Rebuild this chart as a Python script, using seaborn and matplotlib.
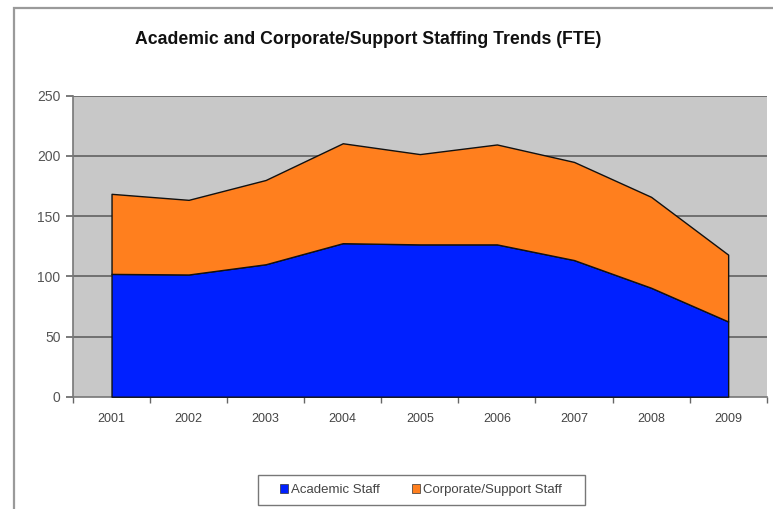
import matplotlib
matplotlib.use("Agg")
import matplotlib.pyplot as plt
from matplotlib.patches import Rectangle, Patch
import seaborn as sns
import numpy as np

years = ["2001", "2002", "2003", "2004", "2005", "2006", "2007", "2008", "2009"]
academic = [102, 101.5, 110, 127.5, 126.5, 126.5, 113.5, 90.5, 62.5]
corporate = [66.5, 62, 70, 83, 75, 83, 81.5, 75.5, 55.5]
series_names = ["Academic Staff", "Corporate/Support Staff"]
y_ticks = [0, 50, 100, 150, 200, 250]

blue = "#0020FF"
orange = "#FF7F1E"

sns.set_theme(style="white")
plt.rcParams["font.family"] = ["Liberation Sans", "DejaVu Sans"]

W, H = 773, 509
fig = plt.figure(figsize=(W / 100, H / 100), dpi=100)
fig.patch.set_facecolor("white")

# outer chart frame (runs off the right and bottom edges)
fig.patches.append(Rectangle((14 / W, -0.05), 1.2, 1 - 8 / H + 0.05,
                             transform=fig.transFigure, fill=False,
                             edgecolor="#9a9a9a", linewidth=1.6, zorder=0))

ax = fig.add_axes([73 / W, 1 - 396.7 / H, (766.7 - 73) / W, (396.7 - 95.7) / H])
ax.set_facecolor("#C8C8C8")

x = np.arange(len(years))
ax.stackplot(x, academic, corporate, colors=[blue, orange],
             edgecolor="#111111", linewidth=1.0, zorder=3)

ax.set_xlim(-0.5, len(years) - 0.5)
ax.set_ylim(0, 250)
ax.set_yticks(y_ticks)
ax.set_yticklabels([str(v) for v in y_ticks])
ax.set_xticks(x)
ax.set_xticklabels(years)
ax.set_xticks(np.arange(-0.5, len(years)), minor=True)

for v in y_ticks[1:]:
    ax.axhline(v, color="#707070", linewidth=1.4, zorder=1)

ax.tick_params(axis="x", which="major", length=0, pad=12, labelsize=9, labelcolor="#444444")
ax.tick_params(axis="x", which="minor", length=4, width=1, color="#666666", direction="out", bottom=True)
ax.tick_params(axis="y", length=5, width=1.3, color="#707070", direction="out", left=True,
               pad=4, labelsize=10, labelcolor="#555555")

for side in ["top", "right"]:
    ax.spines[side].set_visible(False)
ax.spines["left"].set_color("#777777")
ax.spines["left"].set_linewidth(1.2)
ax.spines["bottom"].set_color("#777777")
ax.spines["bottom"].set_linewidth(1.2)

fig.text(368 / W, 1 - 39 / H, "Academic and Corporate/Support Staffing Trends (FTE)",
         ha="center", va="center", fontsize=12.7, fontweight="bold", color="#111111")

# legend entries, with a separate frame box around them
handles = [Patch(facecolor=blue, edgecolor="#333333", linewidth=0.5),
           Patch(facecolor=orange, edgecolor="#333333", linewidth=0.5)]
leg = fig.legend(handles, series_names, loc="center", bbox_to_anchor=(421 / W, 1 - 490 / H),
                 ncol=2, fontsize=9.5, frameon=False, handlelength=0.6,
                 handleheight=0.6, handletextpad=0.25, columnspacing=2.4, borderpad=0.5,
                 borderaxespad=0)
for t in leg.get_texts():
    t.set_color("#444444")
fig.patches.append(Rectangle((258 / W, 1 - 505 / H), (585 - 258) / W, 30 / H,
                             transform=fig.transFigure, fill=False,
                             edgecolor="#777777", linewidth=1.0, zorder=1))

fig.savefig("out.png", dpi=100)
